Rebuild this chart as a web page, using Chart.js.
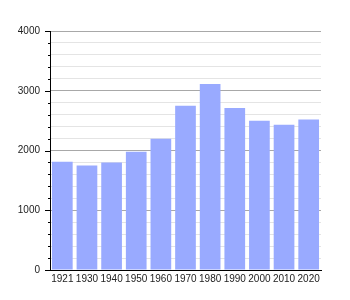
<!DOCTYPE html>
<html><head><meta charset="utf-8">
<script src="https://cdn.jsdelivr.net/npm/chart.js@4"></script>
<style>html,body{margin:0;padding:0;background:#fff}#wrap{width:350px;height:300px}</style>
</head><body><div id="wrap"><canvas id="c" width="350" height="300"></canvas></div>
<script>
const categories = ["1921","1930","1940","1950","1960","1970","1980","1990","2000","2010","2020"];
const population = [1810,1750,1800,1980,2195,2747,3114,2713,2496,2430,2518];
const yMax = 4000;
const yMajorStep = 1000;
const yMinorStep = 200;

const tickPlugin = {
  id: 'ticksPlugin',
  afterDraw(chart) {
    const y = chart.scales.y, ctx = chart.ctx, left = chart.chartArea.left;
    ctx.save();
    ctx.strokeStyle = '#000';
    ctx.lineWidth = 1;
    for (let v = 0; v <= yMax; v += yMinorStep) {
      const py = Math.round(y.getPixelForValue(v)) + 0.5;
      const len = (v % yMajorStep === 0) ? 5 : 2;
      ctx.beginPath();
      ctx.moveTo(left - len, py);
      ctx.lineTo(left, py);
      ctx.stroke();
    }
    ctx.restore();
  }
};

new Chart(document.getElementById('c'), {
  type: 'bar',
  data: {
    labels: categories,
    datasets: [{
      data: population,
      backgroundColor: 'rgb(153,170,255)',
      borderWidth: 0,
      categoryPercentage: 1,
      barPercentage: 0.84
    }]
  },
  options: {
    responsive: false,
    animation: false,
    events: [],
    layout: { padding: { top: 31, right: 29, left: 0, bottom: 0 } },
    plugins: { legend: { display: false }, tooltip: { enabled: false } },
    scales: {
      x: {
        offset: true,
        afterFit(s) { s.height = 30; },
        grid: { display: false, drawTicks: false },
        border: { display: true, color: '#000', width: 1 },
        ticks: { color: '#222', font: { family: 'Liberation Sans, Arial, sans-serif', size: 10 }, padding: 3, maxRotation: 0, autoSkip: false }
      },
      y: {
        min: 0, max: yMax,
        afterFit(s) { s.width = 50; },
        afterBuildTicks(s) {
          const t = [];
          for (let v = 0; v <= yMax; v += yMinorStep) t.push({ value: v });
          s.ticks = t;
        },
        grid: {
          drawTicks: false,
          color(ctx) { return (ctx.tick && ctx.tick.value % yMajorStep === 0) ? '#a8a8a8' : '#e4e4e4'; }
        },
        border: { display: true, color: '#000', width: 1 },
        ticks: {
          color: '#222',
          font: { family: 'Liberation Sans, Arial, sans-serif', size: 10 },
          padding: 10,
          autoSkip: false,
          callback(v) { return v % yMajorStep === 0 ? String(v) : ''; }
        }
      }
    }
  },
  plugins: [tickPlugin]
});
</script></body></html>
